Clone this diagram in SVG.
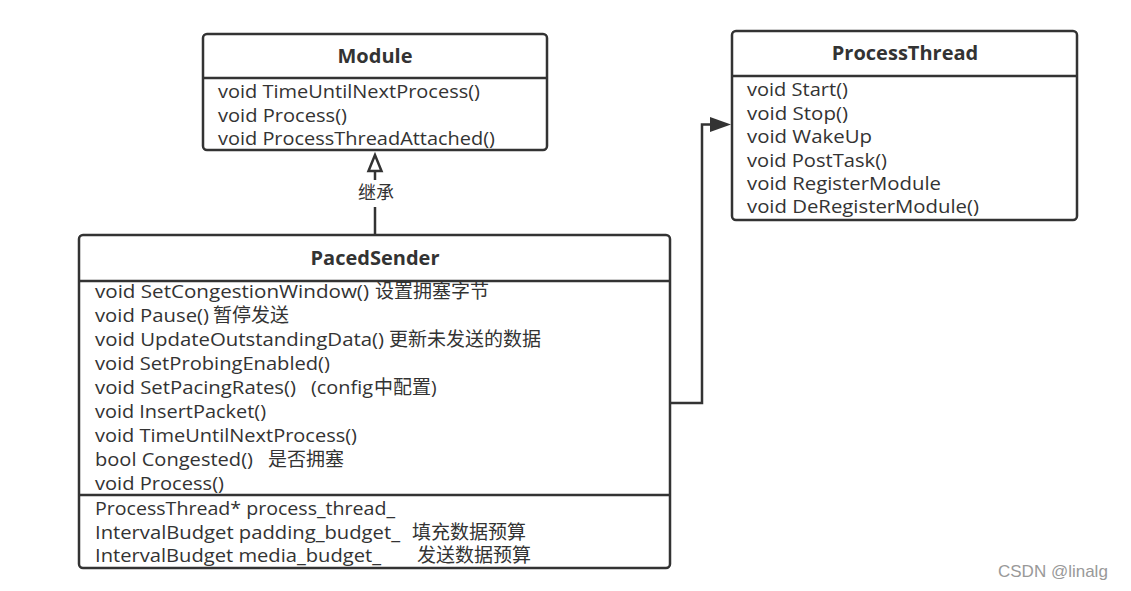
<svg xmlns="http://www.w3.org/2000/svg" width="1131" height="591" viewBox="0 0 1131 591">
<defs>
<style>
.box{fill:#fff;stroke:#333;stroke-width:2.5}
.div{stroke:#333;stroke-width:2.5}
.t{font-family:"Open Sans","Noto Sans CJK SC",sans-serif;font-size:19px;fill:#333}
.z{font-family:"Noto Sans CJK SC",sans-serif;font-size:19px;fill:#333}
.h{font-family:"Open Sans","Noto Sans CJK SC",sans-serif;font-size:20px;font-weight:bold;fill:#333;text-anchor:middle}
.c{fill:none;stroke:#333;stroke-width:2.5}
.lbl{font-family:"Noto Sans CJK SC",sans-serif;font-size:18px;fill:#333;text-anchor:middle}
.wm{font-family:"Liberation Sans",sans-serif;font-size:17px;fill:#999}
</style>
</defs>
<rect width="1131" height="591" fill="#fff"/>
<g id="connectors">
<line class="c" x1="375" y1="235" x2="375" y2="207"/>
<line class="c" x1="375" y1="180" x2="375" y2="171"/>
<polygon points="375,155 368.5,171 381.5,171" fill="#fff" stroke="#333" stroke-width="2.5" stroke-linejoin="miter"/>
<text class="lbl" x="376" y="199">继承</text>
<polyline class="c" points="670,403 702,403 702,124.5 712,124.5"/>
<polygon points="731,124.5 710,117 710,132" fill="#333"/>
</g>
<g id="Module">
<rect class="box" x="203" y="34" width="344" height="116" rx="4"/>
<line class="div" x1="203" y1="78" x2="547" y2="78"/>
<text class="h" x="375" y="63">Module</text>
<text class="t" x="218" y="98" textLength="262" lengthAdjust="spacingAndGlyphs">void TimeUntilNextProcess()</text>
<text class="t" x="218" y="122" textLength="129" lengthAdjust="spacingAndGlyphs">void Process()</text>
<text class="t" x="218" y="145" textLength="277" lengthAdjust="spacingAndGlyphs">void ProcessThreadAttached()</text>
</g>
<g id="ProcessThread">
<rect class="box" x="732" y="31" width="345" height="189" rx="4"/>
<line class="div" x1="732" y1="76" x2="1077" y2="76"/>
<text class="h" x="905" y="60">ProcessThread</text>
<text class="t" x="747" y="96" textLength="101" lengthAdjust="spacingAndGlyphs">void Start()</text>
<text class="t" x="747" y="119.5" textLength="101" lengthAdjust="spacingAndGlyphs">void Stop()</text>
<text class="t" x="747" y="143" textLength="125" lengthAdjust="spacingAndGlyphs">void WakeUp</text>
<text class="t" x="747" y="166.5" textLength="140" lengthAdjust="spacingAndGlyphs">void PostTask()</text>
<text class="t" x="747" y="190" textLength="194" lengthAdjust="spacingAndGlyphs">void RegisterModule</text>
<text class="t" x="747" y="213" textLength="232" lengthAdjust="spacingAndGlyphs">void DeRegisterModule()</text>
</g>
<g id="PacedSender">
<rect class="box" x="79" y="235" width="591" height="333" rx="4"/>
<line class="div" x1="79" y1="281" x2="670" y2="281"/>
<line class="div" x1="79" y1="495" x2="670" y2="495"/>
<text class="h" x="375" y="265">PacedSender</text>
<text class="t" x="95" y="298" textLength="274" lengthAdjust="spacingAndGlyphs">void SetCongestionWindow()</text>
<text class="z" x="375" y="298">设置拥塞字节</text>
<text class="t" x="95" y="322" textLength="114" lengthAdjust="spacingAndGlyphs">void Pause()</text>
<text class="z" x="213" y="322">暂停发送</text>
<text class="t" x="95" y="346" textLength="289" lengthAdjust="spacingAndGlyphs">void UpdateOutstandingData()</text>
<text class="z" x="389" y="346">更新未发送的数据</text>
<text class="t" x="95" y="370" textLength="235" lengthAdjust="spacingAndGlyphs">void SetProbingEnabled()</text>
<text class="t" x="95" y="394" textLength="201" lengthAdjust="spacingAndGlyphs">void SetPacingRates()</text>
<text class="t" x="311" y="394" textLength="62" lengthAdjust="spacingAndGlyphs">(config</text>
<text class="z" x="374" y="394">中配置</text>
<text class="t" x="431" y="394">)</text>
<text class="t" x="95" y="418" textLength="171" lengthAdjust="spacingAndGlyphs">void InsertPacket()</text>
<text class="t" x="95" y="442" textLength="262" lengthAdjust="spacingAndGlyphs">void TimeUntilNextProcess()</text>
<text class="t" x="95" y="466" textLength="158" lengthAdjust="spacingAndGlyphs">bool Congested()</text>
<text class="z" x="268" y="466">是否拥塞</text>
<text class="t" x="95" y="490" textLength="129" lengthAdjust="spacingAndGlyphs">void Process()</text>
<text class="t" x="95" y="515" textLength="300" lengthAdjust="spacingAndGlyphs">ProcessThread* process_thread_</text>
<text class="t" x="95" y="539" textLength="305" lengthAdjust="spacingAndGlyphs">IntervalBudget padding_budget_</text>
<text class="z" x="412" y="539">填充数据预算</text>
<text class="t" x="95" y="562" textLength="286" lengthAdjust="spacingAndGlyphs">IntervalBudget media_budget_</text>
<text class="z" x="417" y="562">发送数据预算</text>
</g>
<text class="wm" x="998" y="577">CSDN @linalg</text>
</svg>
